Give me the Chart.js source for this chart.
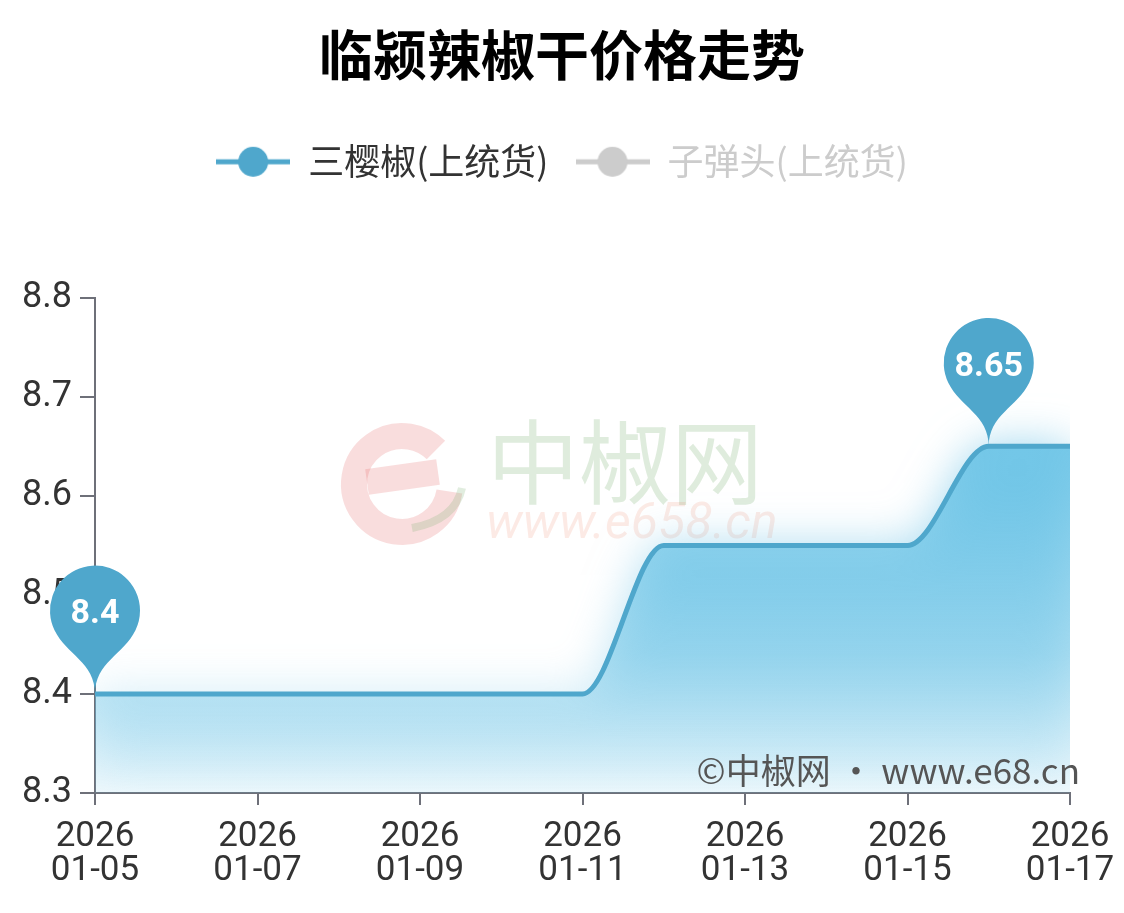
<!DOCTYPE html>
<html>
<head>
<meta charset="utf-8">
<title>临颍辣椒干价格走势</title>
<script src="https://cdn.jsdelivr.net/npm/chart.js@4.4.1/dist/chart.umd.min.js"></script>
<style>
  html, body { margin: 0; padding: 0; background: #fff; }
</style>
</head>
<body>
<canvas id="priceChart" width="1124" height="913"></canvas>
<script>
const dates = [
    "2026-01-05", "2026-01-06", "2026-01-07", "2026-01-08", "2026-01-09",
    "2026-01-10", "2026-01-11", "2026-01-12", "2026-01-13", "2026-01-14",
    "2026-01-15", "2026-01-16", "2026-01-17",
];
const sanyingjiao = [8.4, 8.4, 8.4, 8.4, 8.4, 8.4, 8.4, 8.55, 8.55, 8.55, 8.55, 8.65, 8.65];
const zidantou = []; // hidden in the picture, values not shown
const seriesNames = ["三樱椒(上统货)", "子弹头(上统货)"];
const yMin = 8.3;
const yMax = 8.8;

const BLUE = "#4fa7cc";
const GREY = "#cccccc";
const FONT = 'Roboto, "Noto Sans CJK SC", sans-serif';
const CJK = '"Noto Sans CJK SC", sans-serif';

// legend icon: short line with a dot
function legendIcon(color) {
    const c = document.createElement("canvas");
    c.width = 74;
    c.height = 32;
    const g = c.getContext("2d");
    g.strokeStyle = color;
    g.lineWidth = 5;
    g.beginPath();
    g.moveTo(0, 16);
    g.lineTo(74, 16);
    g.stroke();
    g.fillStyle = color;
    g.beginPath();
    g.arc(37, 16, 15, 0, Math.PI * 2);
    g.fill();
    return c;
}
const icons = [legendIcon(BLUE), legendIcon(GREY)];

// echarts-like pin
function drawPin(ctx, x, y, r, h, color, text) {
    const dy = (r * r) / (h - r);
    const cy = y - h + r + dy;
    const angle = Math.asin(dy / r);
    const dx = Math.cos(angle) * r;
    const tanX = Math.sin(angle);
    const tanY = Math.cos(angle);
    const cpLen = r * 0.6;
    const cpLen2 = r * 0.7;
    ctx.save();
    ctx.fillStyle = color;
    ctx.beginPath();
    ctx.moveTo(x - dx, cy + dy);
    ctx.arc(x, cy, r, Math.PI - angle, Math.PI * 2 + angle);
    ctx.bezierCurveTo(x + dx - tanX * cpLen, cy + dy + tanY * cpLen, x, y - cpLen2, x, y);
    ctx.bezierCurveTo(x, y - cpLen2, x - dx + tanX * cpLen, cy + dy + tanY * cpLen, x - dx, cy + dy);
    ctx.closePath();
    ctx.fill();
    ctx.fillStyle = "#fff";
    ctx.font = "bold 34px " + FONT;
    ctx.textAlign = "center";
    ctx.textBaseline = "middle";
    ctx.fillText(text, x, cy + 4);
    ctx.restore();
}

const watermark = {
    id: "watermark",
    beforeDatasetsDraw(chart) {
        const ctx = chart.ctx;
        ctx.save();
        // round "e" logo
        ctx.strokeStyle = "rgba(225, 85, 85, 0.2)";
        ctx.lineWidth = 26;
        ctx.beginPath();
        ctx.arc(402, 484, 48, Math.PI * 0.05, Math.PI * 1.75);
        ctx.stroke();
        ctx.beginPath();
        ctx.moveTo(367, 482);
        ctx.lineTo(438, 472);
        ctx.stroke();
        ctx.strokeStyle = "rgba(120, 175, 110, 0.22)";
        ctx.lineWidth = 8;
        ctx.beginPath();
        ctx.moveTo(412, 528);
        ctx.quadraticCurveTo(455, 520, 462, 488);
        ctx.stroke();
        ctx.fillStyle = "rgba(110, 170, 100, 0.22)";
        ctx.font = "92px " + CJK;
        ctx.textAlign = "left";
        ctx.textBaseline = "middle";
        ctx.fillText("中椒网", 487, 462);
        ctx.fillStyle = "rgba(235, 130, 100, 0.17)";
        ctx.font = "italic 50px " + FONT;
        ctx.fillText("www.e658.cn", 486, 525);
        ctx.restore();
    },
};

const glowFill = {
    id: "glowFill",
    beforeDatasetsDraw(chart) {
        const ctx = chart.ctx;
        ctx.save();
        ctx.shadowColor = "rgba(100, 190, 228, 0.75)";
        ctx.shadowBlur = 45;
    },
    beforeDatasetDraw(chart) {
        chart.ctx.shadowBlur = 0;
        chart.ctx.shadowColor = "rgba(0,0,0,0)";
    },
    afterDatasetsDraw(chart) {
        chart.ctx.restore();
    },
};

const markPoints = {
    id: "markPoints",
    afterDatasetsDraw(chart) {
        const { ctx, scales } = chart;
        const maxV = Math.max(...sanyingjiao);
        const minV = Math.min(...sanyingjiao);
        const iMax = sanyingjiao.indexOf(maxV);
        const iMin = sanyingjiao.indexOf(minV);
        drawPin(ctx, scales.x.getPixelForValue(iMax), scales.y.getPixelForValue(maxV), 45, 148, BLUE, String(maxV));
        drawPin(ctx, scales.x.getPixelForValue(iMin), scales.y.getPixelForValue(minV), 45, 148, BLUE, String(minV));
    },
};

const credit = {
    id: "credit",
    afterDraw(chart) {
        const { ctx, chartArea } = chart;
        ctx.save();
        ctx.fillStyle = "#555";
        ctx.font = "35px " + CJK;
        ctx.textAlign = "right";
        ctx.textBaseline = "middle";
        ctx.fillText("©中椒网 · www.e68.cn", chartArea.right + 10, chartArea.bottom - 22);
        ctx.restore();
    },
};

const legendSpace = {
    id: "legendSpace",
    beforeInit(chart) {
        const fit = chart.legend.fit;
        chart.legend.fit = function () {
            fit.bind(chart.legend)();
            this.height += 108;
        };
    },
};

const ctx = document.getElementById("priceChart").getContext("2d");

const priceChart = new Chart(ctx, {
    type: "line",
    data: {
        datasets: [
            {
                label: seriesNames[0],
                data: sanyingjiao.map((v, i) => ({ x: i, y: v })),
                borderColor: BLUE,
                borderWidth: 5,
                pointRadius: 0,
                cubicInterpolationMode: "monotone",
                fill: "start",
                backgroundColor: (context) => {
                    const { chart } = context;
                    const { chartArea, scales } = chart;
                    if (!chartArea) return "rgba(100,195,230,0.5)";
                    const top = scales.y.getPixelForValue(Math.max(...sanyingjiao));
                    const g = chart.ctx.createLinearGradient(0, top, 0, chartArea.bottom);
                    g.addColorStop(0, "rgba(105, 195, 230, 0.9)");
                    g.addColorStop(0.6, "rgba(105, 195, 230, 0.52)");
                    g.addColorStop(1, "rgba(105, 195, 230, 0.1)");
                    return g;
                },
            },
            {
                label: seriesNames[1],
                data: zidantou.map((v, i) => ({ x: i, y: v })),
                borderColor: GREY,
                pointRadius: 0,
                hidden: true,
            },
        ],
    },
    options: {
        responsive: false,
        animation: false,
        layout: {
            padding: 0,
        },
        scales: {
            x: {
                type: "linear",
                min: 0,
                max: dates.length - 1,
                afterFit(scale) {
                    scale.height = 120;
                    scale.paddingRight = 54;
                },
                ticks: {
                    stepSize: 2,
                    color: "#333",
                    padding: 15,
                    maxRotation: 0,
                    font: { family: FONT, size: 35, lineHeight: 0.97 },
                    callback: (v) => {
                        const d = dates[v];
                        return d ? [d.slice(0, 4), d.slice(5)] : "";
                    },
                },
                grid: {
                    drawOnChartArea: false,
                    tickLength: 12,
                    color: "#6e7079",
                    lineWidth: 2,
                },
                border: { color: "#6e7079", width: 2 },
            },
            y: {
                min: yMin,
                max: yMax,
                afterFit(scale) {
                    scale.width = 95;
                },
                ticks: {
                    stepSize: 0.1,
                    color: "#333",
                    padding: 8,
                    font: { family: FONT, size: 36 },
                    callback: (v) => v.toFixed(1),
                },
                grid: {
                    drawOnChartArea: false,
                    tickLength: 15,
                    color: "#6e7079",
                    lineWidth: 2,
                },
                border: { color: "#6e7079", width: 2 },
            },
        },
        plugins: {
            title: {
                display: true,
                text: "临颍辣椒干价格走势",
                color: "#000",
                font: { family: CJK, size: 54, weight: "bold" },
                padding: { top: 23, bottom: 29 },
            },
            legend: {
                display: true,
                labels: {
                    usePointStyle: true,
                    pointStyleWidth: 74,
                    padding: 27,
                    font: { family: CJK, size: 36 },
                    generateLabels: (chart) =>
                        chart.data.datasets.map((ds, i) => ({
                            text: ds.label,
                            fontColor: i === 0 ? "#333" : GREY,
                            pointStyle: icons[i],
                            hidden: false,
                            datasetIndex: i,
                            lineWidth: 0,
                            strokeStyle: "rgba(0,0,0,0)",
                            fillStyle: "rgba(0,0,0,0)",
                        })),
                },
            },
            tooltip: { enabled: false },
        },
    },
    plugins: [legendSpace, watermark, glowFill, markPoints, credit],
});
</script>
</body>
</html>
